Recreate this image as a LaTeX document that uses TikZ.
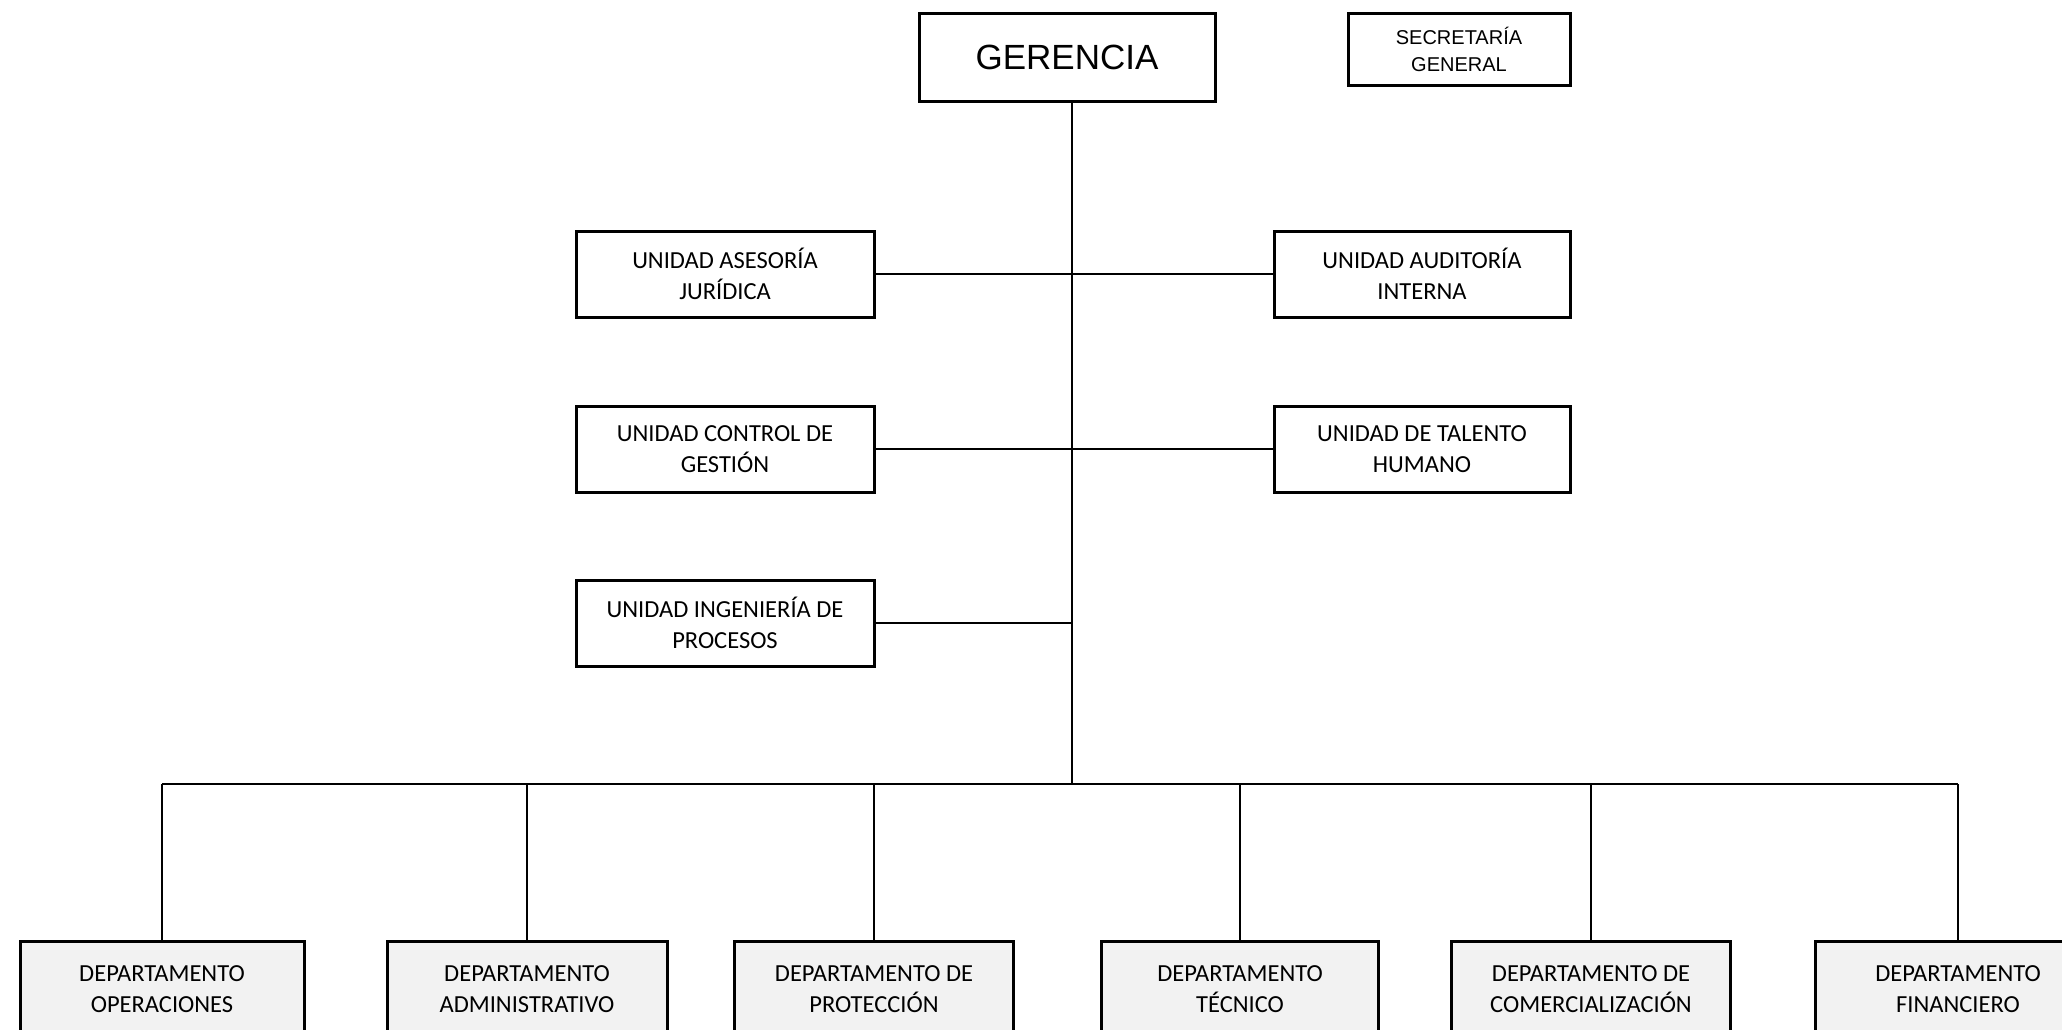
\documentclass[tikz,border=0pt]{standalone}
\usepackage{fontspec}
\setmainfont{Carlito}
\newfontfamily\arialf{Liberation Sans}
\definecolor{deptfill}{HTML}{F2F2F2}
\begin{document}
\begin{tikzpicture}[x=1pt,y=-1pt,
  unitbox/.style={draw=black, line width=3pt, fill=white, align=center, inner sep=0pt,
    minimum width=298pt, minimum height=86pt, font=\fontsize{24.5}{31}\selectfont},
  deptbox/.style={unitbox, fill=deptfill, minimum width=281pt, minimum height=96pt},
  conn/.style={draw=black, line width=1.7pt}]
\useasboundingbox (0,0) rectangle (2062,1029);
% top
\node[unitbox, minimum width=296pt, minimum height=88pt, font=\arialf\fontsize{35}{40}\selectfont] (ger) at (1067,57) {GERENCIA};
\node[unitbox, minimum width=222pt, minimum height=72pt, font=\arialf\fontsize{20}{27}\selectfont] (sec) at (1459,49) {SECRETARÍA\\GENERAL};
% units
\node[unitbox] (aj) at (725,274) {UNIDAD ASESORÍA\\JURÍDICA};
\node[unitbox, minimum width=296pt] (ai) at (1422,274) {UNIDAD AUDITORÍA\\INTERNA};
\node[unitbox] (cg) at (725,449) {UNIDAD CONTROL DE\\GESTIÓN};
\node[unitbox, minimum width=296pt] (th) at (1422,449) {UNIDAD DE TALENTO\\HUMANO};
\node[unitbox] (ip) at (725,623) {UNIDAD INGENIERÍA DE\\PROCESOS};
% departments
\node[deptbox, minimum width=284pt] (d1) at (162,989) {DEPARTAMENTO\\OPERACIONES};
\node[deptbox, minimum width=280pt] (d2) at (527,989) {DEPARTAMENTO\\ADMINISTRATIVO};
\node[deptbox, minimum width=279pt] (d3) at (874,989) {DEPARTAMENTO DE\\PROTECCIÓN};
\node[deptbox, minimum width=277pt] (d4) at (1240,989) {DEPARTAMENTO\\TÉCNICO};
\node[deptbox, minimum width=279pt] (d5) at (1591,989) {DEPARTAMENTO DE\\COMERCIALIZACIÓN};
\node[deptbox, minimum width=286pt] (d6) at (1958,989) {DEPARTAMENTO\\FINANCIERO};
% trunk and bus
\coordinate (tx) at (1072,0);
\coordinate (bus) at (0,784);
\draw[conn] (tx |- ger.south) -- (tx |- bus);
\draw[conn] (d1.north |- bus) -- (d6.north |- bus);
\foreach \d in {d1,d2,d3,d4,d5,d6}{\draw[conn] (\d.north |- bus) -- (\d.north);}
% horizontal connectors
\draw[conn] (aj.east) -- (ai.west);
\draw[conn] (cg.east) -- (th.west);
\draw[conn] (ip.east) -- (tx |- ip.east);
\end{tikzpicture}
\end{document}
